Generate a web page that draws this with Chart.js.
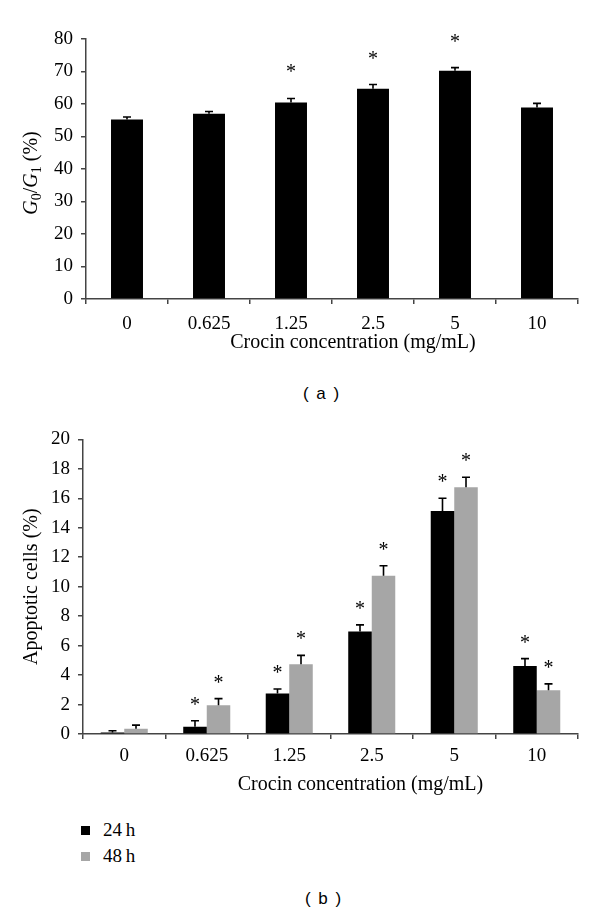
<!DOCTYPE html>
<html>
<head>
<meta charset="utf-8">
<script src="https://cdn.jsdelivr.net/npm/chart.js@4.4.1/dist/chart.umd.min.js"></script>
<style>
  body { margin: 0; background: #fff; width: 600px; height: 916px; position: relative; overflow: hidden; }
  canvas { position: absolute; left: 0; }
  #chartA { top: 0; }
  #chartB { top: 420px; }
  .caption { position: absolute; width: 80px; text-align: center; font: 17px 'Liberation Sans', Arial, sans-serif; word-spacing: 3px; color: #000; }
  #legendB { position: absolute; left: 81px; top: 817px; font: 19px 'Liberation Serif', serif; }
  #legendB div { height: 26px; line-height: 20px; display: flex; align-items: center; }
  #legendB span.box { display: inline-block; width: 9px; height: 9px; margin-right: 13px; }
</style>
</head>
<body>
<canvas id="chartA" width="600" height="370"></canvas>
<canvas id="chartB" width="600" height="380"></canvas>
<div class="caption" style="left:281px; top:384px;">( a )</div>
<div id="legendB"></div>
<div class="caption" style="left:283px; top:889px;">( b )</div>
<script>
// Veriler
const concentrations = ['0', '0.625', '1.25', '2.5', '5', '10'];
const xTitle = 'Crocin concentration (mg/mL)';

// (a) G0/G1
const g0g1 = [55.2, 57.0, 60.5, 64.7, 70.2, 58.9];
const g0g1Err = [0.8, 0.7, 1.2, 1.3, 1.0, 1.3];
const g0g1Sig = [false, false, true, true, true, false];
const ticksA = { min: 0, max: 80, step: 10 };

// (b) apoptotic cells
const apop24 = [0.1, 0.5, 2.75, 6.96, 15.14, 4.62];
const apop24Err = [0.12, 0.4, 0.3, 0.45, 0.86, 0.5];
const apop24Sig = [false, true, true, true, true, true];
const apop48 = [0.36, 1.96, 4.73, 10.74, 16.76, 2.97];
const apop48Err = [0.24, 0.44, 0.61, 0.68, 0.67, 0.43];
const apop48Sig = [false, true, true, true, true, true];
const ticksB = { min: 0, max: 20, step: 2 };

const serif = "'Liberation Serif', 'Times New Roman', serif";
Chart.defaults.font.family = serif;
Chart.defaults.font.size = 19;
Chart.defaults.color = '#000';

const axisColor = '#444';

// hata çubukları + yıldızlar
const errorBars = {
    id: 'errorBars',
    afterDatasetsDraw(chart, args, opts) {
        const ctx = chart.ctx;
        const y = chart.scales.y;
        chart.data.datasets.forEach((ds, di) => {
            const meta = chart.getDatasetMeta(di);
            meta.data.forEach((bar, i) => {
                const top = y.getPixelForValue(ds.data[i] + ds.errors[i]);
                ctx.save();
                ctx.strokeStyle = '#000';
                ctx.lineWidth = 1.6;
                ctx.beginPath();
                ctx.moveTo(bar.x, bar.y);
                ctx.lineTo(bar.x, top);
                ctx.moveTo(bar.x - 4, top);
                ctx.lineTo(bar.x + 4, top);
                ctx.stroke();
                if (ds.sig[i]) {
                    ctx.fillStyle = '#000';
                    ctx.font = '20px ' + serif;
                    ctx.textAlign = 'center';
                    ctx.textBaseline = 'alphabetic';
                    ctx.fillText('*', bar.x, top - opts.gap + 10);
                }
                ctx.restore();
            });
        });
    }
};

// x ekseni başlığı (orijinalde biraz sağa kaymış)
const xAxisTitle = {
    id: 'xAxisTitle',
    afterDraw(chart, args, opts) {
        const ctx = chart.ctx;
        const area = chart.chartArea;
        ctx.save();
        ctx.font = '20px ' + serif;
        ctx.fillStyle = '#000';
        ctx.textAlign = 'center';
        ctx.textBaseline = 'middle';
        ctx.fillText(xTitle, (area.left + area.right) / 2 + opts.shift, area.bottom + opts.dy);
        ctx.restore();
    }
};

// G0/G1 başlığı (italik + alt simge)
const g0g1Title = {
    id: 'g0g1Title',
    afterDraw(chart) {
        const ctx = chart.ctx;
        const parts = [
            { t: 'G', f: 'italic 20px ' + serif, dy: 0 },
            { t: '0', f: '14px ' + serif, dy: 5 },
            { t: '/', f: '20px ' + serif, dy: 0 },
            { t: 'G', f: 'italic 20px ' + serif, dy: 0 },
            { t: '1', f: '14px ' + serif, dy: 5 },
            { t: ' (%)', f: '20px ' + serif, dy: 0 }
        ];
        ctx.save();
        let total = 0;
        parts.forEach(p => { ctx.font = p.f; p.w = ctx.measureText(p.t).width; total += p.w; });
        ctx.translate(32, chart.chartArea.top + (chart.chartArea.bottom - chart.chartArea.top) / 2 + 4);
        ctx.rotate(-Math.PI / 2);
        ctx.fillStyle = '#000';
        ctx.textBaseline = 'middle';
        let x = -total / 2;
        parts.forEach(p => {
            ctx.font = p.f;
            ctx.fillText(p.t, x, p.dy);
            x += p.w;
        });
        ctx.restore();
    }
};

function xAxis(pad, height) {
    return {
        grid: { display: true, drawOnChartArea: false, drawTicks: true, tickLength: 5, color: axisColor, lineWidth: 1.5, offset: true },
        border: { display: true, color: axisColor, width: 1.5 },
        ticks: { padding: pad, maxRotation: 0 },
        afterFit(scale) { scale.height = height; }
    };
}

function yAxis(t, width) {
    return {
        min: t.min,
        max: t.max,
        grid: { display: true, drawOnChartArea: false, drawTicks: true, tickLength: 5, color: axisColor, lineWidth: 1.5 },
        border: { display: true, color: axisColor, width: 1.5 },
        ticks: { stepSize: t.step, padding: 8 },
        afterFit(scale) { scale.width = width; }
    };
}

// (a)
new Chart(document.getElementById('chartA').getContext('2d'), {
    type: 'bar',
    data: {
        labels: concentrations,
        datasets: [{
            label: 'G0/G1',
            data: g0g1,
            errors: g0g1Err,
            sig: g0g1Sig,
            backgroundColor: '#000',
            barPercentage: 0.39,
            categoryPercentage: 1
        }]
    },
    options: {
        responsive: false,
        animation: false,
        layout: { padding: { top: 39, right: 22, left: 0, bottom: 0 } },
        plugins: {
            legend: { display: false },
            tooltip: { enabled: false },
            errorBars: { gap: 30 },
            xAxisTitle: { shift: 21, dy: 44 }
        },
        scales: {
            x: xAxis(9, 71),
            y: yAxis(ticksA, 86)
        }
    },
    plugins: [errorBars, g0g1Title, xAxisTitle]
});

// (b)
const chartB = new Chart(document.getElementById('chartB').getContext('2d'), {
    type: 'bar',
    data: {
        labels: concentrations,
        datasets: [
            {
                label: '24\u2009h',
                data: apop24,
                errors: apop24Err,
                sig: apop24Sig,
                backgroundColor: '#000',
                barPercentage: 1,
                categoryPercentage: 0.57
            },
            {
                label: '48\u2009h',
                data: apop48,
                errors: apop48Err,
                sig: apop48Sig,
                backgroundColor: '#a6a6a6',
                barPercentage: 1,
                categoryPercentage: 0.57
            }
        ]
    },
    options: {
        responsive: false,
        animation: false,
        layout: { padding: { top: 18, right: 22, left: 0, bottom: 0 } },
        plugins: {
            legend: { display: false },
            tooltip: { enabled: false },
            errorBars: { gap: 20 },
            xAxisTitle: { shift: 30, dy: 51 }
        },
        scales: {
            x: xAxis(6, 66),
            y: Object.assign(yAxis(ticksB, 83), {
                title: { display: true, text: 'Apoptotic cells (%)', font: { size: 20 }, padding: { top: 20, bottom: 0 } }
            })
        }
    },
    plugins: [errorBars, xAxisTitle]
});

// lejant
const legendEl = document.getElementById('legendB');
chartB.data.datasets.forEach(ds => {
    const row = document.createElement('div');
    const box = document.createElement('span');
    box.className = 'box';
    box.style.background = ds.backgroundColor;
    row.appendChild(box);
    row.appendChild(document.createTextNode(ds.label));
    legendEl.appendChild(row);
});
</script>
</body>
</html>
